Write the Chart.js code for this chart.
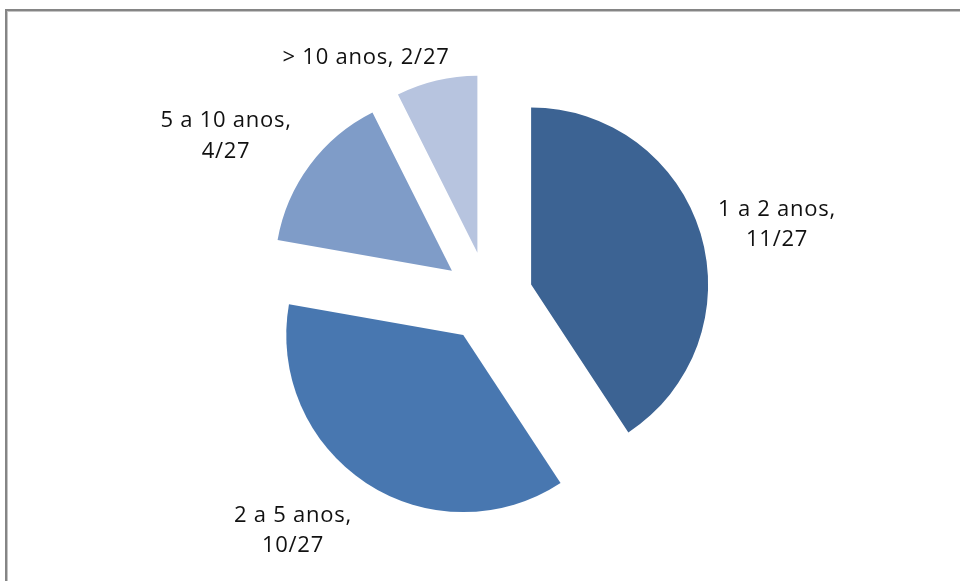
<!DOCTYPE html>
<html>
<head>
<meta charset="utf-8">
<title>Tempo de serviço</title>
<script src="https://cdn.jsdelivr.net/npm/chart.js@4/dist/chart.umd.min.js"></script>
<style>
  html, body { margin: 0; padding: 0; background: #ffffff; overflow: hidden; }
  #wrap { position: relative; width: 960px; height: 581px; }
  #frame {
    position: absolute; left: 5px; top: 9px; width: 1000px; height: 700px;
    border-left: 2px solid #858585; border-top: 2px solid #858585;
    box-shadow: inset 1px 1px 0 #c4c4c4;
  }
  #chart { position: absolute; left: 0; top: 0; }
</style>
</head>
<body>
<div id="wrap">
  <div id="frame"></div>
  <canvas id="chart" width="960" height="581"></canvas>
</div>
<script>
// Seniority groups and how many of the 27 people fall in each
const categories = ['1 a 2 anos', '2 a 5 anos', '5 a 10 anos', '> 10 anos'];
const counts = [11, 10, 4, 2];
const total = 27;

// Slice fills, darkest first
const sliceColors = ['#3c6393', '#4877b0', '#7f9cc8', '#b7c4df'];

// How far (px) each slice is pulled out along its bisector
const explode = [45, 45, 45, 46];

// Label text lines: "<category>," then "<n>/<total>"
const labelLines = [
  [categories[0] + ',', counts[0] + '/' + total],
  [categories[1] + ',', counts[1] + '/' + total],
  [categories[2] + ',', counts[2] + '/' + total],
  [categories[3] + ', ' + counts[3] + '/' + total]
];

// Label anchors in units of the pie radius, measured from the pie centre
const labelPlacement = [
  [1.633, -0.421],
  [-1.102, 1.308],
  [-1.480, -0.921],
  [-0.689, -1.364]
];

// Arc that is shifted rigidly by its offset, keeping its radius and angles
class ExplodedArc extends Chart.ArcElement {
  static id = 'explodedArc';
  draw(ctx) {
    const opts = this.options;
    const pull = opts.offset || 0;
    const mid = (this.startAngle + this.endAngle) / 2;
    ctx.save();
    ctx.translate(Math.cos(mid) * pull, Math.sin(mid) * pull);
    this.options = Object.assign({}, opts, { offset: 0 });
    super.draw(ctx);
    this.options = opts;
    ctx.restore();
  }
}

class ExplodedPie extends Chart.PieController {
  static id = 'explodedPie';
  static defaults = { dataElementType: 'explodedArc' };
}

Chart.register(ExplodedArc, ExplodedPie);

const pieLabels = {
  id: 'pieLabels',
  afterDatasetsDraw(chart) {
    const meta = chart.getDatasetMeta(0);
    if (!meta.data.length) return;
    const ref = meta.data[0];
    const cx = ref.x, cy = ref.y, R = ref.outerRadius;
    const ctx = chart.ctx;
    const size = 22, lineGap = 30.5;
    ctx.save();
    ctx.font = size + 'px "Open Sans", sans-serif';
    if ('letterSpacing' in ctx) ctx.letterSpacing = '0.75px';
    ctx.fillStyle = '#111111';
    ctx.textAlign = 'center';
    ctx.textBaseline = 'alphabetic';
    labelLines.forEach((lines, i) => {
      const ax = cx + labelPlacement[i][0] * R;
      const ay = cy + labelPlacement[i][1] * R;
      const top = ay - (lines.length - 1) * lineGap / 2;
      lines.forEach((t, k) => {
        ctx.fillText(t, ax, top + k * lineGap + size * 0.357);
      });
    });
    ctx.restore();
  }
};

new Chart(document.getElementById('chart'), {
  type: 'explodedPie',
  data: {
    labels: categories,
    datasets: [{
      data: counts,
      backgroundColor: sliceColors,
      borderWidth: 0,
      offset: explode,
      hoverOffset: 0,
      radius: 177
    }]
  },
  options: {
    responsive: false,
    devicePixelRatio: 1,
    animation: false,
    events: [],
    layout: { padding: { left: 16, right: 0, top: 14, bottom: 0 } },
    plugins: {
      legend: { display: false },
      tooltip: { enabled: false }
    }
  },
  plugins: [pieLabels]
});
</script>
</body>
</html>
